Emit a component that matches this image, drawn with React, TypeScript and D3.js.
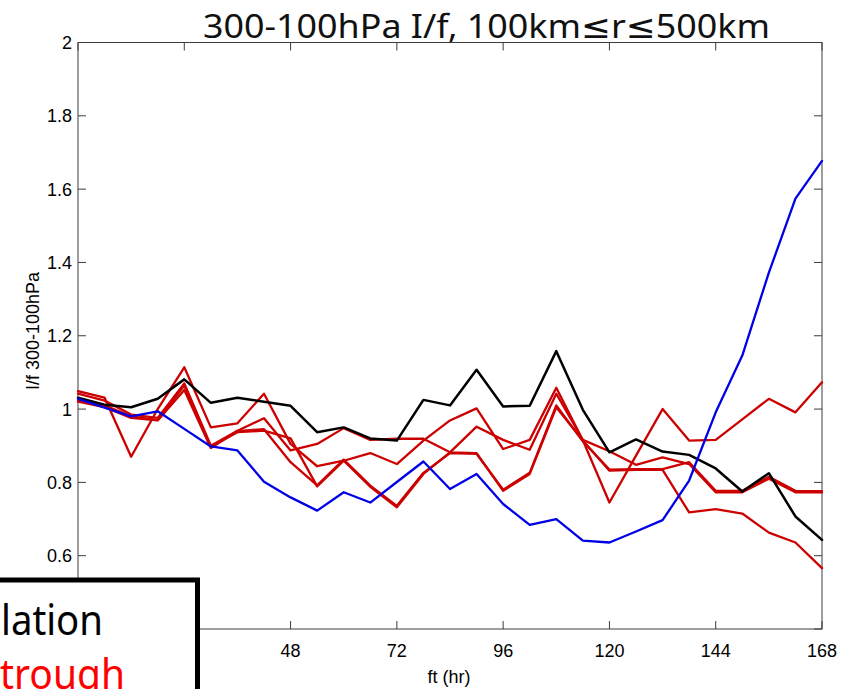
import React from 'react';
import * as d3 from 'd3';

const hours = [0, 6, 12, 18, 24, 30, 36, 42, 48, 54, 60, 66, 72, 78, 84, 90, 96, 102, 108, 114, 120, 126, 132, 138, 144, 150, 156, 162, 168];

const blackSeries = [1.031, 1.012, 1.005, 1.028, 1.081, 1.017, 1.031, 1.020, 1.009, 0.937, 0.950, 0.920, 0.914, 1.025, 1.010, 1.107, 1.007, 1.009, 1.158, 0.998, 0.882, 0.917, 0.884, 0.875, 0.838, 0.775, 0.825, 0.707, 0.643];

const blueSeries = [1.028, 1.004, 0.980, 0.994, 0.946, 0.898, 0.887, 0.802, 0.759, 0.723, 0.773, 0.745, 0.801, 0.857, 0.782, 0.823, 0.741, 0.684, 0.700, 0.641, 0.636, 0.666, 0.697, 0.805, 0.991, 1.146, 1.372, 1.574, 1.677];

const redSeries1 = [1.049, 1.031, 0.870, 1.000, 1.114, 0.950, 0.961, 1.042, 0.905, 0.844, 0.859, 0.880, 0.850, 0.914, 0.969, 1.002, 0.891, 0.916, 1.058, 0.915, 0.745, 0.873, 1.000, 0.914, 0.916, 0.972, 1.028, 0.991, 1.073];
const redSeries2 = [1.042, 1.023, 0.985, 0.976, 1.070, 0.900, 0.941, 0.975, 0.887, 0.905, 0.948, 0.916, 0.919, 0.919, 0.882, 0.880, 0.777, 0.823, 1.005, 0.914, 0.832, 0.834, 0.834, 0.718, 0.727, 0.715, 0.663, 0.636, 0.566];
const redSeries3 = [1.025, 1.010, 0.980, 0.970, 1.064, 0.897, 0.937, 0.941, 0.920, 0.789, 0.859, 0.788, 0.732, 0.823, 0.882, 0.952, 0.916, 0.889, 1.042, 0.916, 0.885, 0.848, 0.868, 0.850, 0.773, 0.773, 0.810, 0.773, 0.773];
const redSeries4 = [1.020, 1.005, 0.976, 0.969, 1.052, 0.894, 0.940, 0.945, 0.855, 0.792, 0.862, 0.791, 0.736, 0.826, 0.880, 0.878, 0.780, 0.826, 1.010, 0.912, 0.835, 0.836, 0.836, 0.855, 0.777, 0.777, 0.815, 0.777, 0.776];

const xTicks = [0, 24, 48, 72, 96, 120, 144, 168];
// labels for 0 and 24 sit under the overlaid text box in the reference
const xTickLabels = ['', '', '48', '72', '96', '120', '144', '168'];
const yTicks = [0.4, 0.6, 0.8, 1.0, 1.2, 1.4, 1.6, 1.8, 2.0];
// label for 0.4 sits under the overlaid text box in the reference
const yTickLabels = ['', '0.6', '0.8', '1', '1.2', '1.4', '1.6', '1.8', '2'];

const titleText = '300-100hPa I/f, 100km≤r≤500km';
const xLabel = 'ft (hr)';
const yLabel = 'I/f 300-100hPa';
const boxLine1 = 'lation';
const boxLine2 = 'trough';

export default function App() {
  const W = 854;
  const H = 689;
  const left = 78, right = 822, top = 42.5, bottom = 629;
  const x = d3.scaleLinear().domain([0, 168]).range([left, right]);
  const y = d3.scaleLinear().domain([0.4, 2]).range([bottom, top]);
  const line = d3
    .line<number>()
    .x((_, i) => x(hours[i]))
    .y((d) => y(d));

  const axisColor = '#3c3c3c';
  const tickLen = 8;
  const tickFont = '"Liberation Sans", Arial, sans-serif';
  const red = '#cc0000';
  const reds = [redSeries1, redSeries2, redSeries3, redSeries4];

  return (
    <div style={{ position: 'absolute', left: 0, top: 0, width: W, height: H, background: '#fff', overflow: 'hidden' }}>
      <svg width={W} height={H} viewBox={`0 0 ${W} ${H}`} style={{ display: 'block' }}>
        <rect x={0} y={0} width={W} height={H} fill="#fff" />
        {/* axes box */}
        <rect x={left} y={top} width={right - left} height={bottom - top} fill="none" stroke={axisColor} strokeWidth={1} />
        {xTicks.map((t, i) => (
          <g key={'xt' + i}>
            <line x1={x(t)} x2={x(t)} y1={bottom} y2={bottom - tickLen} stroke={axisColor} strokeWidth={1} />
            <line x1={x(t)} x2={x(t)} y1={top} y2={top + tickLen} stroke={axisColor} strokeWidth={1} />
            {xTickLabels[i] && (
              <text x={x(t)} y={657} textAnchor="middle" fontFamily={tickFont} fontSize={18} fill="#000">
                {xTickLabels[i]}
              </text>
            )}
          </g>
        ))}
        {yTicks.map((t, i) => (
          <g key={'yt' + i}>
            <line x1={left} x2={left + tickLen} y1={y(t)} y2={y(t)} stroke={axisColor} strokeWidth={1} />
            <line x1={right} x2={right - tickLen} y1={y(t)} y2={y(t)} stroke={axisColor} strokeWidth={1} />
            {yTickLabels[i] && (
              <text x={72} y={y(t)} dy="0.36em" textAnchor="end" fontFamily={tickFont} fontSize={18} fill="#000">
                {yTickLabels[i]}
              </text>
            )}
          </g>
        ))}
        <text x={449} y={683} textAnchor="middle" fontFamily={tickFont} fontSize={18} fill="#000">
          {xLabel}
        </text>
        <text transform="translate(39,331) rotate(-90)" textAnchor="middle" fontFamily={tickFont} fontSize={18} fill="#000">
          {yLabel}
        </text>

        {/* data lines */}
        <g fill="none" strokeLinejoin="round" strokeLinecap="round">
          {reds.map((s, i) => (
            <path key={'r' + i} d={line(s) || ''} stroke={red} strokeWidth={2.3} />
          ))}
          <path d={line(blackSeries) || ''} stroke="#000" strokeWidth={2.5} />
          <path d={line(blueSeries) || ''} stroke="#0000e6" strokeWidth={2.3} />
        </g>

        {/* title */}
        <text x={203} y={38} fontFamily='"Noto Sans", "DejaVu Sans", sans-serif' fontSize={33} textLength={567} lengthAdjust="spacingAndGlyphs" fill="#111">
          {titleText}
        </text>

        {/* overlaid text box */}
        <rect x={-20} y={580} width={217.5} height={140} fill="#fff" stroke="#000" strokeWidth={5} />
        <text x={1} y={635} fontFamily='"Noto Sans", "DejaVu Sans", sans-serif' fontSize={41} textLength={102} lengthAdjust="spacingAndGlyphs" fill="#000">
          {boxLine1}
        </text>
        <text x={0} y={689} fontFamily='"Noto Sans", "DejaVu Sans", sans-serif' fontSize={41} textLength={125} lengthAdjust="spacingAndGlyphs" fill="#ff0000">
          {boxLine2}
        </text>
      </svg>
    </div>
  );
}
